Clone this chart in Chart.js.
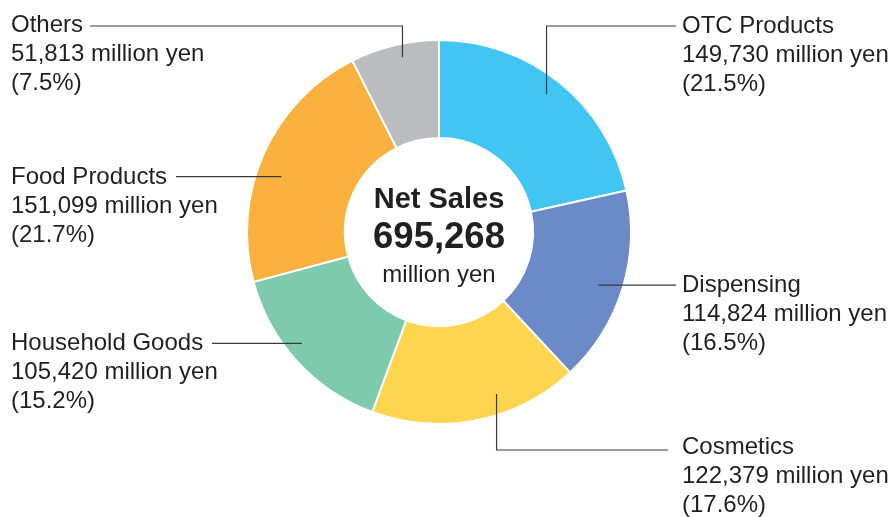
<!DOCTYPE html>
<html>
<head>
<meta charset="utf-8">
<script src="https://cdn.jsdelivr.net/npm/chart.js@4/dist/chart.umd.min.js"></script>
<style>
  html, body { margin: 0; padding: 0; background: #fff; }
  canvas { display: block; }
</style>
</head>
<body>
<canvas id="chart-net-sales" width="890" height="517"></canvas>
<script>
const font_family = '"Liberation Sans", Arial, Helvetica, sans-serif'
const text_color = '#231f20'
const line_color = '#3a3a3a'

// segments, clockwise from 12 o'clock
const categories = ['OTC Products', 'Dispensing', 'Cosmetics', 'Household Goods', 'Food Products', 'Others']
const sales = [149730, 114824, 122379, 105420, 151099, 51813]
const shares = ['21.5%', '16.5%', '17.6%', '15.2%', '21.7%', '7.5%']
const colors = ['#41c6f3', '#6b8ac7', '#fed54e', '#7ecaad', '#f9b03c', '#bbbcbf']
const total_label = '695,268'

// where each callout sits: anchor inside the arc (t = fraction along the arc,
// r = fraction of outer radius), optional elbow y, line end x, text origin
const callouts = [
    { t: 0.49, r: 0.91, elbowY: 26, endX: 676, textX: 682, textY: 26 },
    { t: 0.52, r: 0.875, elbowY: null, endX: 676, textX: 682, textY: 285 },
    { t: 0.37, r: 0.895, elbowY: 450, endX: 668, textX: 682, textY: 447 },
    { t: 0.56, r: 0.92, elbowY: null, endX: 212, textX: 11, textY: 343 },
    { t: 0.44, r: 0.87, elbowY: null, endX: 176, textX: 11, textY: 177 },
    { t: 0.56, r: 0.93, elbowY: 26, endX: 90, textX: 11, textY: 25 }
]

function fmt(n) {
    return n.toLocaleString('en-US')
}

const callout_plugin = {
    id: 'callouts',
    afterDraw(chart) {
        const ctx = chart.ctx
        const arcs = chart.getDatasetMeta(0).data
        ctx.save()

        arcs.forEach((arc, i) => {
            const c = callouts[i]
            const a = arc.startAngle + (arc.endAngle - arc.startAngle) * c.t
            const ax = arc.x + Math.cos(a) * arc.outerRadius * c.r
            const ay = arc.y + Math.sin(a) * arc.outerRadius * c.r

            ctx.strokeStyle = line_color
            ctx.lineWidth = 1.2
            ctx.beginPath()
            ctx.moveTo(ax, ay)
            if (c.elbowY !== null) {
                ctx.lineTo(ax, c.elbowY)
                ctx.lineTo(c.endX, c.elbowY)
            } else {
                ctx.lineTo(c.endX, ay)
            }
            ctx.stroke()

            ctx.fillStyle = text_color
            ctx.font = `24px ${font_family}`
            ctx.textAlign = 'left'
            ctx.textBaseline = 'middle'
            const lines = [categories[i], fmt(sales[i]) + ' million yen', '(' + shares[i] + ')']
            lines.forEach((s, k) => ctx.fillText(s, c.textX, c.textY + k * 29))
        })

        // centre caption
        const cx = arcs[0].x
        const cy = arcs[0].y
        ctx.textAlign = 'center'
        ctx.textBaseline = 'middle'
        ctx.fillStyle = text_color
        ctx.font = `bold 29px ${font_family}`
        ctx.fillText('Net Sales', cx, cy - 32)
        ctx.font = `bold 36.5px ${font_family}`
        ctx.fillText(total_label, cx, cy + 6)
        ctx.font = `24px ${font_family}`
        ctx.fillText('million yen', cx, cy + 43)
        ctx.restore()
    }
}

const chart = new Chart('chart-net-sales', {
    type: 'doughnut',
    data: {
        labels: categories,
        datasets: [{
            data: sales,
            backgroundColor: colors,
            borderColor: '#ffffff',
            borderWidth: 2,
            hoverOffset: 0
        }]
    },
    options: {
        responsive: false,
        animation: false,
        cutout: '49%',
        layout: {
            padding: { left: 246, right: 258, top: 39, bottom: 92 }
        },
        plugins: {
            legend: { display: false },
            tooltip: { enabled: false }
        }
    },
    plugins: [callout_plugin]
})
</script>
</body>
</html>
